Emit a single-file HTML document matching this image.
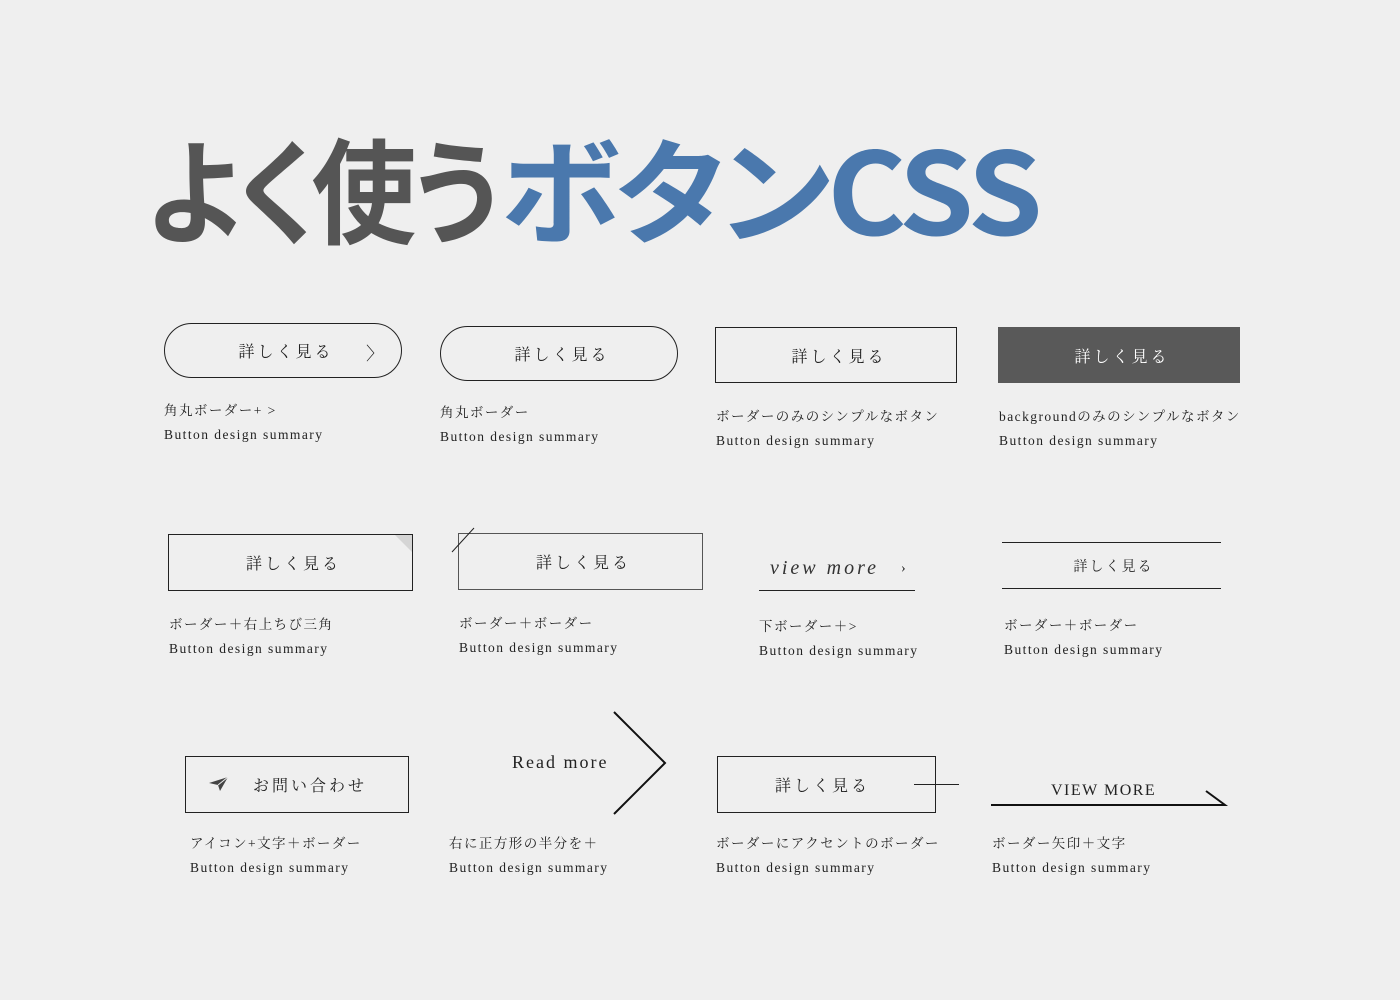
<!DOCTYPE html>
<html><head><meta charset="utf-8"><style>
body{margin:0;width:1400px;height:1000px;background:#efefef;position:relative;overflow:hidden;font-family:"Liberation Serif","Noto Serif CJK JP",serif;color:#222}
.a{position:absolute}
.t{position:absolute;top:126px;font-family:"Noto Sans CJK JP",sans-serif;font-weight:700;font-size:114px;line-height:120px;letter-spacing:-4px;font-feature-settings:"palt";white-space:nowrap;transform-origin:left center}
.b{position:absolute;box-sizing:border-box;border:1px solid #222;display:flex;align-items:center;justify-content:center;font-size:16px;letter-spacing:3px;padding-left:6px}
.l{position:absolute;font-size:13.5px;letter-spacing:1.45px;line-height:24px;white-space:nowrap}
</style></head><body>
<div class="t" style="left:147px;color:#555;transform:scaleX(0.92)">よく使う</div>
<div class="t" style="left:500px;color:#4a78ad;transform:scaleX(1.06)">ボタンCSS</div>

<div class="b" style="left:164px;top:323px;width:238px;height:55px;border-radius:28px">詳しく見る</div>
<div class="a" style="left:366px;top:340px;font-size:18px">〉</div>
<div class="l" style="left:164px;top:399px">角丸ボーダー+ &gt;<br>Button design summary</div>

<div class="b" style="left:440px;top:326px;width:238px;height:55px;border-radius:28px">詳しく見る</div>
<div class="l" style="left:440px;top:401px">角丸ボーダー<br>Button design summary</div>

<div class="b" style="left:715px;top:327px;width:242px;height:56px">詳しく見る</div>
<div class="l" style="left:716px;top:405px">ボーダーのみのシンプルなボタン<br>Button design summary</div>

<div class="b" style="left:998px;top:327px;width:242px;height:56px;background:#595959;border-color:#595959;color:#fff">詳しく見る</div>
<div class="l" style="left:999px;top:405px">backgroundのみのシンプルなボタン<br>Button design summary</div>

<div class="b" style="left:168px;top:534px;width:245px;height:57px">詳しく見る</div>
<div class="a" style="left:395px;top:535px;width:0;height:0;border-top:17px solid #d5d5d5;border-left:17px solid transparent"></div>
<div class="l" style="left:169px;top:613px">ボーダー＋右上ちび三角<br>Button design summary</div>

<div class="b" style="left:458px;top:533px;width:245px;height:57px;border-color:#555">詳しく見る</div>
<svg class="a" style="left:450px;top:526px" width="30" height="30"><line x1="2" y1="26" x2="24" y2="2" stroke="#222" stroke-width="1"/></svg>
<div class="l" style="left:459px;top:612px">ボーダー＋ボーダー<br>Button design summary</div>

<div class="a" style="left:770px;top:557px;font-size:20px;font-style:italic;letter-spacing:3px;color:#333">view more</div>
<div class="a" style="left:901px;top:561px;font-size:14px">›</div>
<div class="a" style="left:759px;top:590px;width:156px;border-top:1px solid #222"></div>
<div class="l" style="left:759px;top:615px">下ボーダー＋&gt;<br>Button design summary</div>

<div class="a" style="left:1002px;top:542px;width:219px;height:47px;border-top:1px solid #222;border-bottom:1px solid #222;box-sizing:border-box;display:flex;align-items:center;justify-content:center;font-size:14px;letter-spacing:2px;padding-left:4px">詳しく見る</div>
<div class="l" style="left:1004px;top:614px">ボーダー＋ボーダー<br>Button design summary</div>

<div class="a" style="left:185px;top:756px;width:224px;height:57px;border:1px solid #222;box-sizing:border-box"></div>
<div class="a" style="left:253px;top:773px;font-size:16px;letter-spacing:3px">お問い合わせ</div>
<svg class="a" style="left:208px;top:775px" width="22" height="18"><path d="M1 8 L20 2 L12 16 L10 10 Z" fill="#444"/><path d="M10 10 L20 2" stroke="#efefef" stroke-width="1"/></svg>
<div class="l" style="left:190px;top:832px">アイコン+文字＋ボーダー<br>Button design summary</div>

<div class="a" style="left:512px;top:752px;font-size:18px;letter-spacing:2px">Read more</div>
<svg class="a" style="left:610px;top:710px" width="60" height="106"><polyline points="4,2 55,53 4,104" fill="none" stroke="#111" stroke-width="2"/></svg>
<div class="l" style="left:449px;top:832px">右に正方形の半分を＋<br>Button design summary</div>

<div class="b" style="left:717px;top:756px;width:219px;height:57px;padding-right:8px;padding-left:0">詳しく見る</div>
<div class="a" style="left:914px;top:784px;width:45px;border-top:1px solid #222"></div>
<div class="l" style="left:716px;top:832px">ボーダーにアクセントのボーダー<br>Button design summary</div>

<div class="a" style="left:1051px;top:782px;font-size:16px;letter-spacing:1.5px">VIEW MORE</div>
<svg class="a" style="left:988px;top:788px" width="242" height="22"><polyline points="3,17 237,17 218,3" fill="none" stroke="#111" stroke-width="2"/></svg>
<div class="l" style="left:992px;top:832px">ボーダー矢印＋文字<br>Button design summary</div>
</body></html>
